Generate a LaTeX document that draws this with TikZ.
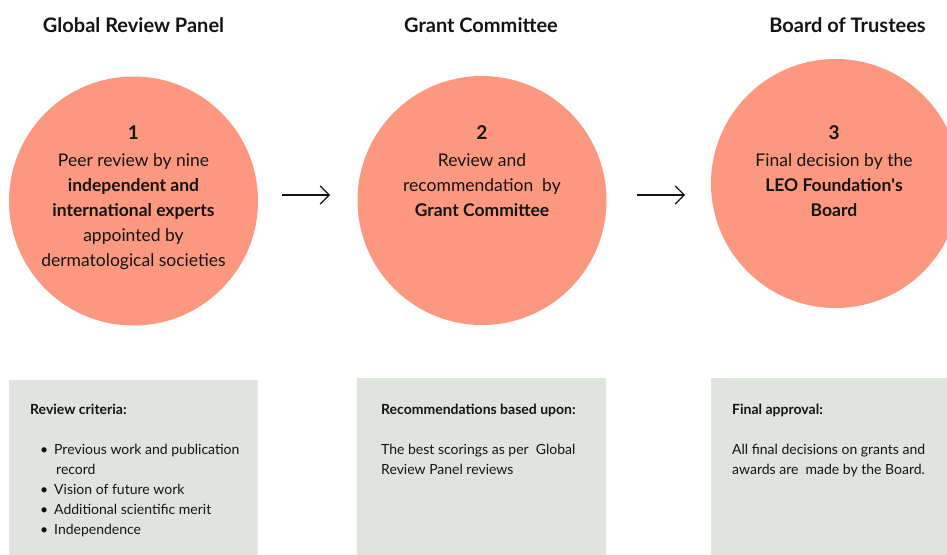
\documentclass[tikz,border=0pt]{standalone}
\usepackage{fontspec}
\setmainfont{Lato}
\usetikzlibrary{arrows.meta}
\definecolor{stagefill}{RGB}{253,152,128}
\definecolor{notefill}{RGB}{223,228,223}
\definecolor{ink}{RGB}{20,20,20}

\begin{document}
\begin{tikzpicture}[x=1pt,y=1pt,yscale=-1,xscale=1,
  stage/.style={circle,fill=stagefill,draw=none,minimum size=249pt,inner sep=0pt},
  note/.style={rectangle,fill=notefill,draw=none,anchor=north west,inner sep=0pt,minimum width=249pt,minimum height=180pt},
  heading/.style={anchor=base,inner sep=0pt,text=ink,font=\fontsize{20}{24}\selectfont\bfseries},
  inside/.style={anchor=base,align=center,inner sep=0pt,text=ink,font=\fontsize{17.5}{25}\selectfont},
  body/.style={anchor=base west,align=left,inner sep=0pt,text=ink,font=\fontsize{14}{20}\selectfont},
  flow/.style={-{Straight Barb[length=9pt,width=18pt]},line width=1.2pt,draw=ink}]
\useasboundingbox (0,0) rectangle (947,554);

%Shape: Circle
\node[stage] (panel) at (133.5,201) {};
\node[stage] (committee) at (482,200.5) {};
\node[stage] (board) at (835.5,183.5) {};

%Shape: Rectangle
\node[note] (criteria) at (9,380) {};
\node[note] (recommend) at (357,378) {};
\node[note,minimum width=240pt] (approval) at (711,378) {};

% Text Node
\node[heading] (tpanel) at (133.5,32) {Global Review Panel};
\node[heading] (tcommittee) at (481,32) {Grant Committee};
\node[heading] (tboard) at (847.5,32) {Board of Trustees};

% Text Node (base is the last line)
\node[inside] (ipanel) at (133.5,266) {{\fontsize{19}{25}\selectfont\bfseries 1}\\[2pt] Peer review by nine\\ \textbf{independent and}\\ \textbf{international experts}\\ appointed by\\ dermatological societies};
\node[inside] (icommittee) at (482,216) {{\fontsize{19}{25}\selectfont\bfseries 2}\\[2pt] Review and\\ recommendation\ \ by\\ \textbf{Grant Committee}};
\node[inside] (iboard) at (834,216) {{\fontsize{19}{25}\selectfont\bfseries 3}\\[2pt] Final decision by the\\ \textbf{LEO Foundation\textquotesingle s}\\ \textbf{Board}};

%Straight Lines
\coordinate (a1s) at (282,195);
\coordinate (a1e) at (330,195);
\coordinate (a2s) at (637,195);
\coordinate (a2e) at (685,195);
\draw[flow] (a1s) -- (a1e);
\draw[flow] (a2s) -- (a2e);

% Text Node
\node[body] (hcriteria) at (30,414) {\textbf{Review criteria:}};
\node[body] (lcriteria) at (40,534) {\makebox[14pt][l]{\textbullet}Previous work and publication\\ \hspace*{16pt}record\\ \makebox[14pt][l]{\textbullet}Vision of future work\\ \makebox[14pt][l]{\textbullet}Additional scientific merit\\ \makebox[14pt][l]{\textbullet}Independence};
\node[body] (hrecommend) at (381,414) {\textbf{Recommendations based upon:}};
\node[body] (lrecommend) at (381,474) {The best scorings as per\ \ Global\\ Review Panel reviews};
\node[body] (happroval) at (732,414) {\textbf{Final approval:}};
\node[body] (lapproval) at (732,474) {All final decisions on grants and\\ awards are\ \ made by the Board.};

\end{tikzpicture}
\end{document}
